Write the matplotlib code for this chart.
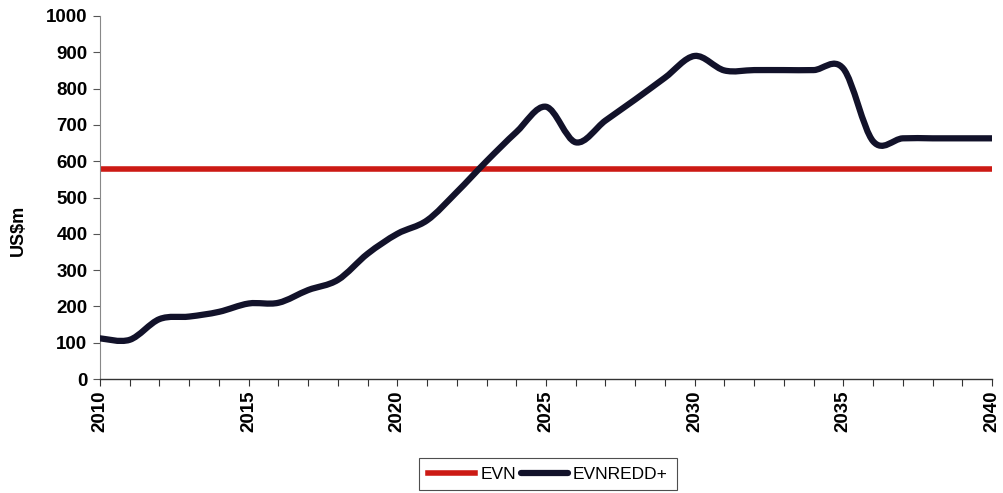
import numpy as np
import matplotlib
matplotlib.use("Agg")
import matplotlib.pyplot as plt
from matplotlib.path import Path
from matplotlib.patches import PathPatch
from matplotlib.lines import Line2D
from matplotlib.ticker import MultipleLocator, FixedLocator

years = list(range(2010, 2041))
evn = [578] * len(years)
evn_redd = [112, 108, 165, 172, 185, 208, 210, 245, 273, 345,
            400, 437, 515, 600, 680, 750, 652, 712, 770, 830,
            890, 850, 851, 851, 851, 855, 655, 663, 663, 663, 663]
y_ticks = list(range(0, 1001, 100))
x_label_ticks = [2010, 2015, 2020, 2025, 2030, 2035, 2040]

plt.rcParams['font.family'] = ['Liberation Sans', 'DejaVu Sans']

fig = plt.figure(figsize=(10.04, 4.93), dpi=100)
ax = fig.add_axes([100/1004, 1-379/493, 892/1004, (379-16)/493])

RED = '#cc1a14'
DARK = '#12122a'

ax.plot(years, evn, color=RED, lw=4.0, solid_capstyle='butt', zorder=2)


def smooth_path(xs, ys):
    xs = np.asarray(xs, float)
    ys = np.asarray(ys, float)
    px = np.concatenate([[xs[0]], xs, [xs[-1]]])
    py = np.concatenate([[ys[0]], ys, [ys[-1]]])
    verts = [(xs[0], ys[0])]
    codes = [Path.MOVETO]
    for i in range(1, len(px) - 2):
        c1 = (px[i] + (px[i+1] - px[i-1]) / 6, py[i] + (py[i+1] - py[i-1]) / 6)
        c2 = (px[i+1] - (px[i+2] - px[i]) / 6, py[i+1] - (py[i+2] - py[i]) / 6)
        verts += [c1, c2, (px[i+1], py[i+1])]
        codes += [Path.CURVE4] * 3
    return Path(verts, codes)


patch = PathPatch(smooth_path(years, evn_redd), transform=ax.transData,
                  fill=False, edgecolor=DARK, lw=4.5, capstyle='round',
                  joinstyle='round', zorder=3)
ax.add_patch(patch)

ax.set_xlim(2010, 2040)
ax.set_ylim(0, 1000)
ax.xaxis.set_major_locator(FixedLocator(x_label_ticks))
ax.xaxis.set_minor_locator(MultipleLocator(1))
ax.set_yticks(y_ticks)
ax.set_xticklabels([str(v) for v in x_label_ticks], rotation=90,
                   fontsize=13.5, fontweight='bold')
ax.set_yticklabels([str(v) for v in y_ticks], fontsize=13.5, fontweight='bold')
ax.tick_params(axis='x', which='both', direction='out', length=5, width=0.8,
               color='#333333', pad=3)
ax.tick_params(axis='y', which='major', direction='out', length=5, width=0.8,
               color='#555555', pad=4)

for s in ['top', 'right']:
    ax.spines[s].set_visible(False)
ax.spines['left'].set_color('#888888')
ax.spines['left'].set_linewidth(0.8)
ax.spines['bottom'].set_color('#333333')
ax.spines['bottom'].set_linewidth(1.0)

fig.text(18/1004, 1-230/493, 'US$m', rotation=90, fontsize=13,
         fontweight='bold', ha='center', va='center')

handles = [Line2D([], [], color=RED, lw=4.0),
           Line2D([], [], color=DARK, lw=4.5, solid_capstyle='round')]
leg = fig.legend(handles, ['EVN', 'EVNREDD+'], ncol=2, loc='center',
                 bbox_to_anchor=(548/1004, 1-474/493), frameon=True,
                 fancybox=False, edgecolor='#222222', fontsize=12.5,
                 handlelength=2.7, handletextpad=0.3, columnspacing=0.3,
                 borderpad=0.5, borderaxespad=0)
leg.get_frame().set_linewidth(0.8)

fig.savefig('out.png', dpi=100)
